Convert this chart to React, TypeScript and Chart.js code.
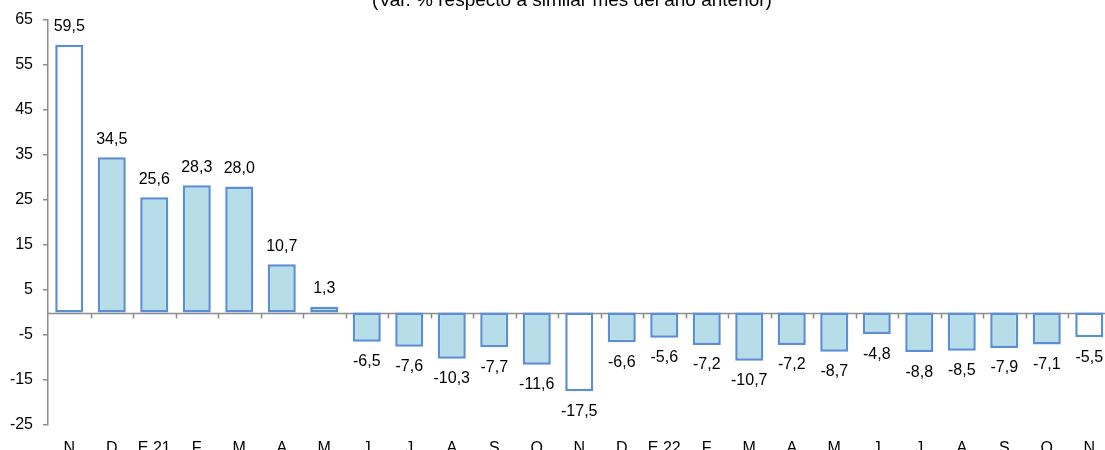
import React, { useEffect, useRef } from "react";
import { Chart, registerables } from "chart.js";

Chart.register(...registerables);

const categories = ["N", "D", "E.21", "F", "M", "A", "M", "J", "J", "A", "S", "O", "N", "D", "E.22", "F", "M", "A", "M", "J", "J", "A", "S", "O", "N"];
const values = [59.5, 34.5, 25.6, 28.3, 28.0, 10.7, 1.3, -6.5, -7.6, -10.3, -7.7, -11.6, -17.5, -6.6, -5.6, -7.2, -10.7, -7.2, -8.7, -4.8, -8.8, -8.5, -7.9, -7.1, -5.5];
const hollowIndices = [0, 12, 24];
const yTicks = [-25, -15, -5, 5, 15, 25, 35, 45, 55, 65];
const titleText = "(Var. % respecto a similar mes del año anterior)";

const FONT = "'Liberation Sans', Arial, sans-serif";
const AXIS_GRAY = "#8c8c8c";
const BAR_FILL = "#b7dee8";
const BAR_BORDER = "#5a8fd6";

export default function App() {
  const canvasRef = useRef<HTMLCanvasElement | null>(null);

  useEffect(() => {
    const canvas = canvasRef.current;
    if (!canvas) return;

    const titlePlugin = {
      id: "topTitle",
      afterDraw(chart: any) {
        const ctx = chart.ctx;
        ctx.save();
        ctx.font = `19px ${FONT}`;
        ctx.fillStyle = "#000";
        ctx.textAlign = "center";
        ctx.textBaseline = "alphabetic";
        ctx.fillText(titleText, 572, 6);
        ctx.restore();
      },
    };

    const zeroLinePlugin = {
      id: "zeroLine",
      beforeDatasetsDraw(chart: any) {
        const { ctx, chartArea, scales } = chart;
        const y0 = Math.round(scales.y.getPixelForValue(0)) + 0.5;
        ctx.save();
        ctx.strokeStyle = AXIS_GRAY;
        ctx.lineWidth = 1.5;
        ctx.beginPath();
        ctx.moveTo(chartArea.left, y0);
        ctx.lineTo(chartArea.right, y0);
        const n = categories.length;
        for (let i = 1; i < n; i++) {
          const xb = Math.round((scales.x.getPixelForTick(i - 1) + scales.x.getPixelForTick(i)) / 2) + 0.5;
          ctx.moveTo(xb, y0);
          ctx.lineTo(xb, y0 + 5);
        }
        ctx.stroke();
        ctx.restore();
      },
    };

    const labelPlugin = {
      id: "valueLabels",
      afterDatasetsDraw(chart: any) {
        const ctx = chart.ctx;
        const meta = chart.getDatasetMeta(0);
        ctx.save();
        ctx.font = `16px ${FONT}`;
        ctx.fillStyle = "#000";
        ctx.textAlign = "center";
        ctx.textBaseline = "middle";
        meta.data.forEach((el: any, i: number) => {
          const v = values[i];
          const txt = v.toFixed(1).replace(".", ",");
          const y = v >= 0 ? el.y - 18 : el.y + 20;
          ctx.fillText(txt, el.x, y);
        });
        ctx.restore();
      },
    };

    const chart = new Chart(canvas, {
      type: "bar",
      data: {
        labels: categories,
        datasets: [
          {
            data: values,
            backgroundColor: values.map((_, i) => (hollowIndices.includes(i) ? "#ffffff" : BAR_FILL)),
            borderColor: BAR_BORDER,
            borderWidth: 2.5,
            borderSkipped: false,
            barPercentage: 0.66,
            categoryPercentage: 1,
          },
        ],
      },
      options: {
        animation: false,
        responsive: false,
        devicePixelRatio: 1,
        layout: { padding: { top: 20, right: 14.5, bottom: 0, left: 0 } },
        plugins: {
          legend: { display: false },
          title: { display: false },
          tooltip: { enabled: false },
        },
        scales: {
          x: {
            grid: { display: false },
            border: { display: false },
            ticks: {
              autoSkip: false,
              maxRotation: 0,
              padding: 6,
              color: "#000",
              font: { family: FONT, size: 16 },
            },
            afterFit(axis: any) {
              axis.height = 45;
            },
          },
          y: {
            min: -25,
            max: 65,
            afterBuildTicks(axis: any) {
              axis.ticks = yTicks.map((v) => ({ value: v }));
            },
            grid: {
              drawOnChartArea: false,
              drawTicks: true,
              tickLength: 5,
              color: AXIS_GRAY,
              lineWidth: 1.5,
            },
            border: { display: true, color: AXIS_GRAY, width: 1.5 },
            ticks: {
              padding: 10,
              color: "#000",
              font: { family: FONT, size: 16 },
            },
            afterFit(axis: any) {
              axis.width = 48;
            },
          },
        },
      },
      plugins: [zeroLinePlugin, labelPlugin, titlePlugin],
    });

    return () => {
      chart.destroy();
    };
  }, []);

  return (
    <div
      style={{
        position: "fixed",
        left: 0,
        top: 0,
        width: 1105,
        height: 450,
        overflow: "hidden",
        background: "#fff",
      }}
    >
      <canvas
        ref={canvasRef}
        width={1125}
        height={470}
        style={{ position: "absolute", left: 0, top: 0, width: 1125, height: 470 }}
      />
    </div>
  );
}
